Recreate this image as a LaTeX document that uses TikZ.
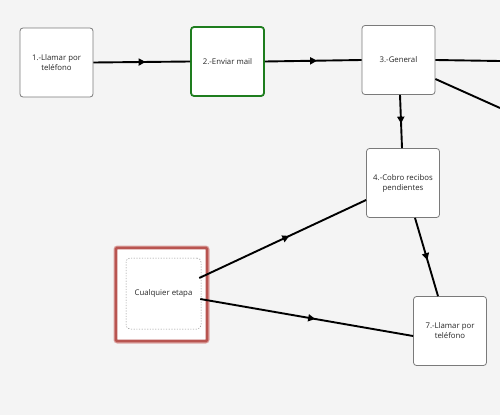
\documentclass[tikz,border=0pt]{standalone}
\usepackage{fontspec}
\setmainfont{Open Sans}
\usetikzlibrary{arrows.meta,decorations.markings}
\definecolor{bg}{HTML}{F4F4F4}
\definecolor{boxgray}{HTML}{7A7A7A}
\definecolor{okgreen}{HTML}{1E7D1E}
\definecolor{redbox}{HTML}{B85450}
\definecolor{redhalo}{HTML}{DDA5A3}
\tikzset{
  stage/.style={draw=boxgray, line width=0.8pt, fill=white, rounded corners=3pt,
    minimum width=73pt, minimum height=69pt, align=center, inner sep=2pt,
    font=\fontsize{7.8}{10}\selectfont, text=black!85},
  flow/.style={line width=1.9pt, black, postaction={decorate},
    decoration={markings, mark=at position 0.54 with {\arrow{Triangle[length=7pt,width=7pt]}}}},
  plain/.style={line width=1.9pt, black},
}
\begin{document}
\begin{tikzpicture}[x=1pt,y=-1pt]
\fill[bg] (0,0) rectangle (500,415);
\useasboundingbox (0,0) rectangle (500,415);
% nodes
\node[stage] (n1) at (56.5,62.5) {1.-Llamar por\\teléfono};
\node[stage, draw=okgreen, line width=1.8pt] (n2) at (227.5,61.5) {2.-Enviar mail};
\node[stage] (n3) at (398.5,60) {3.-General};
\node[stage] (n4) at (403,183) {4.-Cobro recibos\\pendientes};
\node[stage] (n7) at (450,331) {7.-Llamar por\\teléfono};
% any-stage box
\node[draw=redhalo, line width=4pt, minimum width=92pt, minimum height=94pt, rounded corners=2pt] (outerhalo) at (161.5,294.5) {};
\node[draw=redbox, fill=white, line width=2.8pt, minimum width=91pt, minimum height=93pt, rounded corners=1pt] (outer) at (161.5,294.5) {};
\node[draw=black!45, dashed, dash pattern=on 1.2pt off 1.5pt, line width=0.5pt, rounded corners=4pt,
  minimum width=75pt, minimum height=71pt, font=\fontsize{7.8}{10}\selectfont, text=black!85] (ce) at (163.5,293.5) {Cualquier etapa};
% off-canvas ends
\coordinate (r1) at (500,61);
\coordinate (r2) at (500,108);
% connectors
\draw[flow] (n1.east) -- (n2.west);
\draw[flow] (n2.east) -- (n3.west);
\draw[plain] (n3.east) -- (r1);
\draw[plain] ([yshift=-19pt]n3.east) -- (r2);
\draw[flow] ([xshift=1.5pt]n3.south) -- ([xshift=-1pt]n4.north);
\draw[flow] ([xshift=-2pt,yshift=15.5pt]ce.east) -- ([yshift=-17pt]n4.west);
\draw[flow] ([xshift=12pt]n4.south) -- ([xshift=-12pt]n7.north);
\draw[flow] ([xshift=-1pt,yshift=-5.5pt]ce.east) -- ([yshift=-5pt]n7.west);
\end{tikzpicture}
\end{document}
